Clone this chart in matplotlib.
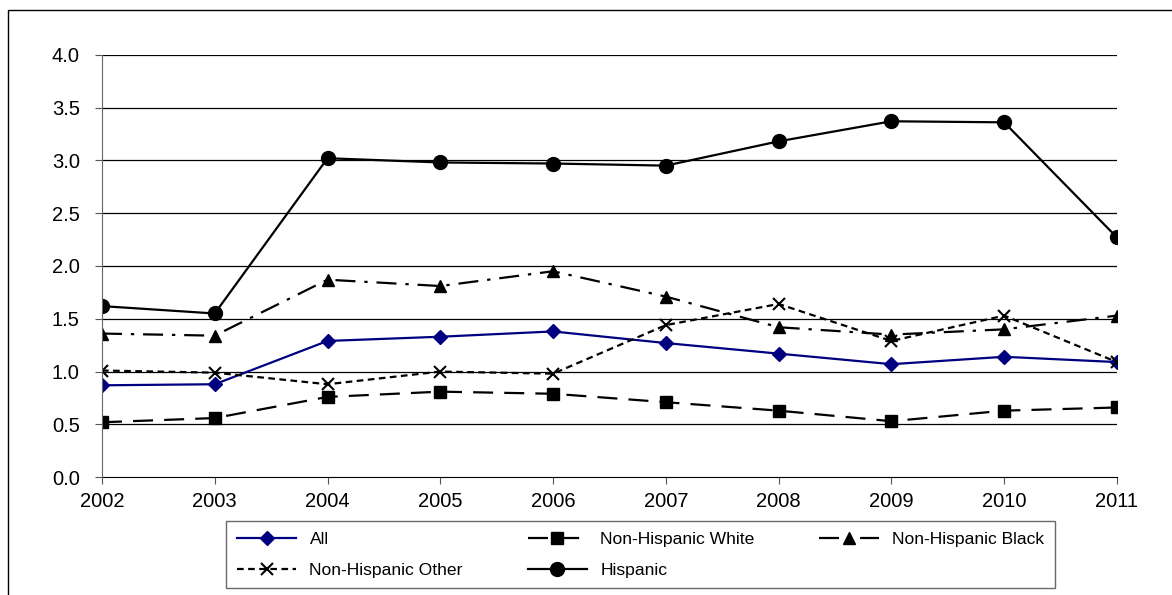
import matplotlib.pyplot as plt
from matplotlib.patches import Rectangle

plt.rcParams['font.family'] = ['Liberation Sans', 'DejaVu Sans']

years = [2002, 2003, 2004, 2005, 2006, 2007, 2008, 2009, 2010, 2011]
all_vals = [0.87, 0.88, 1.29, 1.33, 1.38, 1.27, 1.17, 1.07, 1.14, 1.09]
nh_white = [0.52, 0.56, 0.76, 0.81, 0.79, 0.71, 0.63, 0.53, 0.63, 0.66]
nh_black = [1.36, 1.34, 1.87, 1.81, 1.95, 1.71, 1.42, 1.35, 1.40, 1.53]
nh_other = [1.01, 0.99, 0.88, 1.00, 0.98, 1.44, 1.64, 1.29, 1.53, 1.09]
hispanic = [1.62, 1.55, 3.02, 2.98, 2.97, 2.95, 3.18, 3.37, 3.36, 2.27]

fig = plt.figure(figsize=(11.72, 5.95), dpi=100)
ax = fig.add_axes([0.087, 0.198, 0.866, 0.710])

# outer frame (only top/left visible in the original)
fig.patches.append(Rectangle((0.007, -0.05), 1.2, 1.033, transform=fig.transFigure,
                             fill=False, edgecolor='black', lw=1.0))

for y in [0.5, 1.0, 1.5, 2.0, 2.5, 3.0, 3.5, 4.0]:
    ax.axhline(y, color='black', lw=0.9, zorder=1)

l_all, = ax.plot(years, all_vals, color='#000080', lw=1.6, marker='D', ms=7, label='All', zorder=3)
l_white, = ax.plot(years, nh_white, color='black', lw=1.6, dashes=(9, 5), marker='s', ms=9,
                   label='Non-Hispanic White', zorder=3)
l_black, = ax.plot(years, nh_black, color='black', lw=1.6, dashes=(9, 4, 1.5, 4), marker='^', ms=9,
                   label='Non-Hispanic Black', zorder=3)
l_other, = ax.plot(years, nh_other, color='black', lw=1.6, dashes=(3, 2), marker='x', ms=9, mew=1.5,
                   label='Non-Hispanic Other', zorder=3)
l_hisp, = ax.plot(years, hispanic, color='black', lw=1.6, marker='o', ms=10, label='Hispanic', zorder=3)

ax.set_xlim(2002, 2011)
ax.set_ylim(0, 4.0)
ax.set_xticks(years)
ax.set_yticks([0, 0.5, 1.0, 1.5, 2.0, 2.5, 3.0, 3.5, 4.0])
ax.set_yticklabels(['0.0', '0.5', '1.0', '1.5', '2.0', '2.5', '3.0', '3.5', '4.0'])
ax.tick_params(labelsize=14.5, direction='out', length=5, color='#555555')
ax.spines['top'].set_visible(False)
ax.spines['right'].set_visible(False)
ax.spines['left'].set_color('#666666')
ax.spines['bottom'].set_color('black')
ax.spines['left'].set_zorder(4)
ax.tick_params(axis='y', pad=11)
ax.tick_params(axis='x', pad=6)

handles = [l_all, l_other, l_white, l_hisp, l_black]
leg = fig.legend(handles, [h.get_label() for h in handles], ncol=3, loc='center',
                 bbox_to_anchor=(0.5465, 0.068), fontsize=12.6, frameon=True, fancybox=False,
                 edgecolor='#444444', handlelength=3.4, handletextpad=0.75, columnspacing=3.7,
                 borderpad=0.6, labelspacing=0.9)
leg.get_frame().set_linewidth(1.0)

fig.savefig('out.png', dpi=100)
